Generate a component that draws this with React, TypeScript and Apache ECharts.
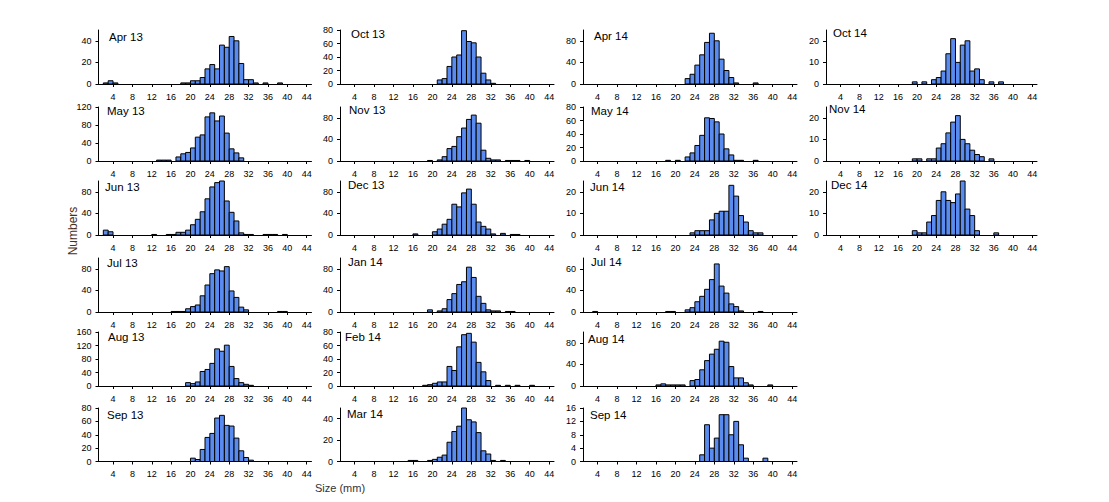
import React, { useEffect, useRef } from "react";
import * as echarts from "echarts";

// ---------- DATA (bin start in mm, count) ----------
const PANEL_NAMES = [
  "Apr 13", "May 13", "Jun 13", "Jul 13", "Aug 13", "Sep 13",
  "Oct 13", "Nov 13", "Dec 13", "Jan 14", "Feb 14", "Mar 14",
  "Apr 14", "May 14", "Jun 14", "Jul 14", "Aug 14", "Sep 14",
  "Oct 14", "Nov 14", "Dec 14",
];

const APR13 = [[2,1],[3,3],[4,1],[18,1],[19,1],[20,3],[21,3],[22,6],[23,14],[24,18],[25,14],[26,36],[27,34],[28,44],[29,40],[30,19],[31,4],[32,4],[33,1],[35,1],[38,1]];
const MAY13 = [[13,2],[14,2],[15,2],[17,9],[18,16],[19,19],[20,29],[21,53],[22,58],[23,98],[24,107],[25,89],[26,100],[27,62],[28,27],[29,18],[30,7]];
const JUN13 = [[2,9],[3,6],[12,1],[15,1],[16,1],[17,5],[18,5],[19,9],[20,19],[21,29],[22,43],[23,67],[24,89],[25,97],[26,100],[27,63],[28,42],[29,26],[30,4],[31,1],[32,1],[35,1],[36,1],[37,1],[39,1]];
const JUL13 = [[16,1],[17,1],[18,1],[19,6],[20,10],[21,13],[22,30],[23,50],[24,71],[25,78],[26,76],[27,84],[28,39],[29,27],[30,9],[31,4],[38,1],[39,1]];
const AUG13 = [[19,10],[20,7],[21,12],[22,43],[23,49],[24,67],[25,110],[26,103],[27,121],[28,58],[29,22],[30,10],[31,5],[32,2]];
const SEP13 = [[20,5],[21,3],[22,18],[23,36],[24,42],[25,65],[26,69],[27,54],[28,53],[29,35],[30,16],[31,6],[32,2]];
const OCT13 = [[21,6],[22,8],[23,26],[24,40],[25,43],[26,79],[27,63],[28,61],[29,40],[30,16],[31,6],[32,1]];
const NOV13 = [[19,1],[21,2],[22,8],[23,23],[24,27],[25,45],[26,61],[27,77],[28,85],[29,70],[30,20],[31,5],[32,2],[33,2],[35,1],[36,1],[37,1],[39,1]];
const DEC13 = [[16,2],[20,6],[21,11],[22,20],[23,29],[24,57],[25,52],[26,78],[27,85],[28,57],[29,24],[30,16],[31,11],[32,2],[34,3],[36,1],[37,1]];
const JAN14 = [[19,4],[21,2],[22,6],[23,23],[24,34],[25,51],[26,56],[27,83],[28,64],[29,29],[30,16],[31,4],[32,2],[33,2],[35,1],[36,1]];
const FEB14 = [[18,1],[19,2],[20,4],[21,6],[22,6],[23,29],[24,23],[25,58],[26,76],[27,78],[28,65],[29,35],[30,21],[31,8],[33,1],[35,1],[37,1],[40,1]];
const MAR14 = [[15,1],[16,1],[19,1],[20,2],[21,4],[22,6],[23,18],[24,28],[25,33],[26,50],[27,39],[28,37],[29,27],[30,10],[31,7],[32,1],[34,1]];
const APR14 = [[22,10],[23,18],[24,35],[25,54],[26,77],[27,94],[28,80],[29,46],[30,25],[31,12],[32,2],[36,2]];
const MAY14 = [[18,1],[20,1],[22,6],[23,12],[24,23],[25,38],[26,64],[27,63],[28,58],[29,40],[30,18],[31,9],[32,1],[33,1],[36,1]];
const JUN14 = [[23,1],[24,2],[25,2],[26,2],[27,7],[28,10],[29,11],[30,11],[31,23],[32,18],[33,9],[34,6],[35,2],[36,1],[37,1]];
const JUL14 = [[3,1],[18,1],[19,1],[22,4],[23,8],[24,19],[25,29],[26,42],[27,60],[28,89],[29,48],[30,35],[31,15],[32,10],[33,2],[37,1]];
const AUG14 = [[16,2],[17,4],[18,2],[19,2],[20,2],[21,2],[23,10],[24,12],[25,30],[26,47],[27,59],[28,68],[29,83],[30,81],[31,36],[32,15],[33,15],[34,6],[35,2],[39,2]];
const SEP14 = [[25,2],[26,11],[27,4],[28,7],[29,14],[30,14],[31,8],[32,12],[33,5],[34,1],[38,1]];
const OCT14 = [[19,1],[21,1],[23,2],[24,3],[25,6],[26,14],[27,21],[28,10],[29,18],[30,20],[31,6],[32,7],[33,2],[35,1],[37,1]];
const NOV14 = [[19,1],[20,1],[22,1],[23,1],[24,6],[25,8],[26,13],[27,18],[28,21],[29,10],[30,8],[31,5],[32,3],[33,2],[35,1]];
const DEC14 = [[19,2],[20,1],[21,1],[22,6],[23,9],[24,16],[25,20],[26,16],[27,15],[28,19],[29,25],[30,12],[31,9],[32,2],[36,1]];

const PANEL_DATA = [
  APR13, MAY13, JUN13, JUL13, AUG13, SEP13,
  OCT13, NOV13, DEC13, JAN14, FEB14, MAR14,
  APR14, MAY14, JUN14, JUL14, AUG14, SEP14,
  OCT14, NOV14, DEC14,
];

const X_TICKS = [4, 8, 12, 16, 20, 24, 28, 32, 36, 40, 44];
const X_MIN = 1;
const X_MAX = 45;

const Y_MAX = [50, 120, 100, 100, 160, 80, 80, 100, 100, 100, 80, 50, 100, 80, 25, 100, 100, 16, 25, 25, 25];
const Y_TICKS = [
  [0, 20, 40], [0, 40, 80, 120], [0, 40, 80], [0, 40, 80], [0, 40, 80, 120, 160], [0, 20, 40, 60, 80],
  [0, 20, 40, 60, 80], [0, 40, 80], [0, 40, 80], [0, 40, 80], [0, 20, 40, 60, 80], [0, 20, 40],
  [0, 40, 80], [0, 20, 40, 60, 80], [0, 10, 20], [0, 40, 80], [0, 40, 80], [0, 4, 8, 12, 16],
  [0, 10, 20], [0, 10, 20], [0, 10, 20],
];
// tick label texts as printed in the figure
const Y_TICK_LABELS = [
  ["0", "20", "40"], ["0", "40", "80", "120"], ["0", "40", "80"], ["0", "40", "80"], ["0", "40", "80", "120", "160"], ["0", "20", "40", "60", "80"],
  ["0", "20", "40", "60", "80"], ["0", "40", "80"], ["0", "40", "80"], ["0", "40", "80"], ["0", "20", "40", "60", "80"], ["0", "20", "40"],
  ["0", "40", "80"], ["0", "20", "40", "60", "80"], ["0", "10", "20"], ["0", "40", "60"], ["0", "40", "80"], ["0", "4", "8", "12", "16"],
  ["0", "10", "20"], ["0", "10", "20"], ["0", "10", "20"],
];

const Y_NAME = "Numbers";
const X_NAME = "Size (mm)";

// ---------- LAYOUT ----------
const PANEL_COL = [0,0,0,0,0,0, 1,1,1,1,1,1, 2,2,2,2,2,2, 3,3,3];
const PANEL_ROW = [0,1,2,3,4,5, 0,1,2,3,4,5, 0,1,2,3,4,5, 0,1,2];
const COL_LEFT = [98.5, 340, 583, 826];
const COL_RIGHT = [311.5, 554, 797, 1037];
const ROW_TOP = [30, 107, 181, 258, 332, 408];
const ROW_BOTTOM = [84, 161, 235, 312, 386, 461.5];
const TITLE_POS = [
  [109, 37], [107, 111], [105, 187], [107, 263], [108, 337], [107, 415],
  [351, 34], [349, 110], [348, 185], [348, 262], [345, 337], [347, 414],
  [594, 36], [591, 111], [590, 187], [591, 262], [588, 339], [590, 415],
  [833, 33], [829, 109], [831, 185],
];

const FONT = "Liberation Sans, Arial, sans-serif";
const BAR_COLOR = "#5a8cf0";

export default function App() {
  const ref = useRef<HTMLDivElement>(null);

  useEffect(() => {
    if (!ref.current) return;
    const chart = echarts.init(ref.current, undefined, { renderer: "svg" });

    const grid: any[] = [];
    const xAxis: any[] = [];
    const yAxis: any[] = [];
    const series: any[] = [];
    const graphic: any[] = [];

    PANEL_DATA.forEach((data, i) => {
      const c = PANEL_COL[i];
      const r = PANEL_ROW[i];
      grid.push({
        left: COL_LEFT[c],
        top: ROW_TOP[r],
        width: COL_RIGHT[c] - COL_LEFT[c],
        height: ROW_BOTTOM[r] - ROW_TOP[r],
        containLabel: false,
      });
      xAxis.push({
        type: "value",
        gridIndex: i,
        min: X_MIN,
        max: X_MAX,
        axisLine: { show: true, onZero: false, lineStyle: { color: "#000", width: 1 } },
        axisTick: { show: true, customValues: X_TICKS, length: 3, lineStyle: { color: "#000" } },
        axisLabel: { customValues: X_TICKS, fontSize: 9, color: "#000", margin: 8, fontFamily: FONT },
        splitLine: { show: false },
      });
      const labels = Y_TICK_LABELS[i];
      const ticks = Y_TICKS[i];
      yAxis.push({
        type: "value",
        gridIndex: i,
        min: 0,
        max: Y_MAX[i],
        axisLine: { show: true, lineStyle: { color: "#000", width: 1 } },
        axisTick: { show: true, customValues: ticks, length: 3, lineStyle: { color: "#000" } },
        axisLabel: {
          customValues: ticks,
          fontSize: 9,
          color: "#000",
          margin: 7,
          fontFamily: FONT,
          formatter: (v: number) => {
            const k = ticks.indexOf(v);
            return k >= 0 ? labels[k] : String(v);
          },
        },
        splitLine: { show: false },
      });
      series.push({
        type: "custom",
        xAxisIndex: i,
        yAxisIndex: i,
        data: data,
        encode: { x: 0, y: 1 },
        renderItem: (params: any, api: any) => {
          const x0 = api.value(0);
          const v = api.value(1);
          const p0 = api.coord([x0, v]);
          const p1 = api.coord([x0 + 1, 0]);
          return {
            type: "rect",
            shape: { x: p0[0], y: p0[1], width: p1[0] - p0[0], height: p1[1] - p0[1] },
            style: { fill: BAR_COLOR, stroke: "#000", lineWidth: 1 },
          };
        },
      });
      graphic.push({
        type: "text",
        x: TITLE_POS[i][0],
        y: TITLE_POS[i][1],
        z: 10,
        style: {
          text: PANEL_NAMES[i],
          fontSize: 11.5,
          fontFamily: FONT,
          fill: "#000",
          align: "left",
          verticalAlign: "middle",
        },
      });
    });

    graphic.push({
      type: "text",
      x: 72.5,
      y: 231,
      rotation: Math.PI / 2,
      z: 10,
      style: {
        text: Y_NAME,
        fontSize: 12,
        fontFamily: FONT,
        fill: "#4a3020",
        align: "center",
        verticalAlign: "middle",
      },
    });
    graphic.push({
      type: "text",
      x: 315,
      y: 488,
      z: 10,
      style: {
        text: X_NAME,
        fontSize: 11,
        fontFamily: FONT,
        fill: "#333",
        align: "left",
        verticalAlign: "middle",
      },
    });

    chart.setOption({
      animation: false,
      backgroundColor: "#fff",
      grid,
      xAxis,
      yAxis,
      series,
      graphic,
    });

    return () => chart.dispose();
  }, []);

  return (
    <div
      ref={ref}
      style={{ position: "absolute", left: 0, top: 0, width: 1109, height: 502 }}
    />
  );
}
